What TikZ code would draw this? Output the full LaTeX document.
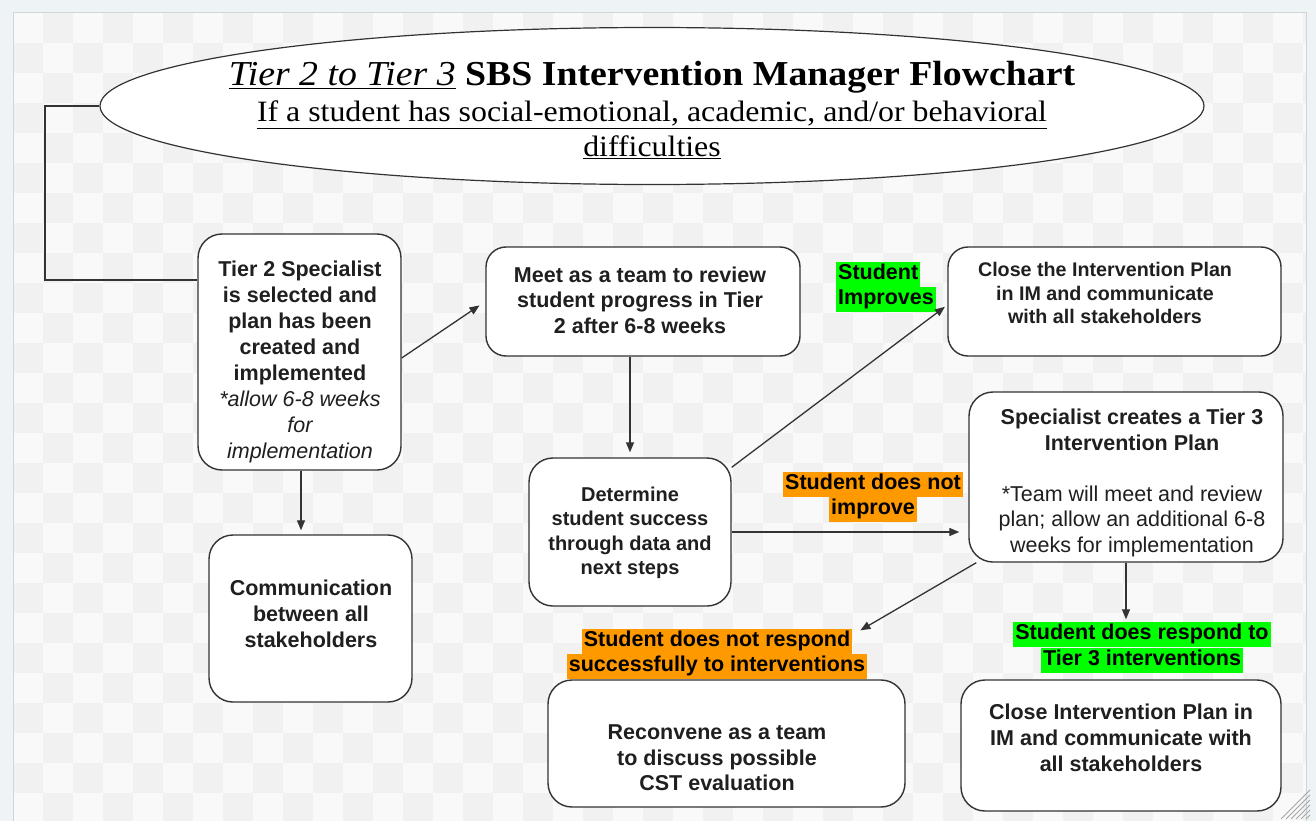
\documentclass[tikz,border=0pt]{standalone}
\usepackage{fontspec}
\setmainfont{Liberation Serif}[FakeStretch=1.08]
\setsansfont{Liberation Sans}
\usetikzlibrary{arrows.meta,shapes.geometric,calc}
\definecolor{hlgreen}{HTML}{00FF00}
\definecolor{hlorange}{HTML}{FF9900}
\definecolor{edge}{HTML}{333333}
\definecolor{bgA}{HTML}{F1F1F1}
\definecolor{bgB}{HTML}{F9F9F9}
\definecolor{outerbg}{HTML}{EEF4F6}
\definecolor{framec}{HTML}{D0D6D8}
\begin{document}
\begin{tikzpicture}[x=1pt,y=-1pt,
 box/.style={draw=edge, line width=1.4pt, fill=white, rounded corners=24pt, inner sep=0pt},
 txt/.style={font=\sffamily\bfseries\fontsize{21.5}{26}\selectfont, align=center, text=black!88, inner sep=0pt},
 arr/.style={draw=edge, line width=1.3pt, -{Triangle[length=10pt,width=8pt]}},
 hl/.style={inner sep=2pt, text height=16pt, text depth=5pt, font=\sffamily\bfseries\fontsize{21.5}{24}\selectfont},
]
\useasboundingbox (0,0) rectangle (1316,821);
\fill[outerbg] (0,0) rectangle (1316,821);
\begin{scope}
\clip (13,13) rectangle (1306,821);
\fill[bgA] (13,13) rectangle (1306,821);
\foreach \i in {0,...,43} { \foreach \j in {0,...,27} {
  \pgfmathtruncatemacro\k{mod(\i+\j,2)}
  \ifnum\k=0 \fill[bgB] (13+30*\i, 13+30*\j) rectangle ++(30,30); \fi } }
\end{scope}
\draw[framec, line width=1pt] (13,821) -- (13,13) -- (1306,13) -- (1306,821);
\foreach \d in {4,9,...,29} \draw[gray!70, line width=1pt] (1310-\d,819) -- (1310,819-\d);

% title ellipse
\node[draw=edge, line width=1.2pt, fill=white, ellipse, minimum width=1104pt, minimum height=157pt, inner sep=0pt] (ell) at (652,106) {};
\node[font=\fontsize{35}{40}\selectfont, inner sep=0pt, anchor=base] (title) at (652,86) {\underline{\textit{Tier 2 to Tier 3}} \textbf{SBS Intervention Manager Flowchart}};
\node[font=\fontsize{29.5}{32}\selectfont, inner sep=0pt, anchor=base] (sub1) at (652,122) {\underline{If a student has social-emotional, academic, and/or behavioral}};
\node[font=\fontsize{29.5}{32}\selectfont, inner sep=0pt, anchor=base] (sub2) at (652,157) {\underline{difficulties}};

% boxes
\node[box, minimum width=203pt, minimum height=236pt] (A) at (299.5,352) {};
\node[box, minimum width=203pt, minimum height=167pt] (B) at (310.5,618.5) {};
\node[box, minimum width=314pt, minimum height=109pt, rounded corners=20pt] (C) at (643,301.5) {};
\node[box, minimum width=202pt, minimum height=148pt] (D) at (630,532) {};
\node[box, minimum width=333pt, minimum height=109pt, rounded corners=20pt] (E) at (1114.5,301.5) {};
\node[box, minimum width=314pt, minimum height=170pt] (F) at (1126,477) {};
\node[box, minimum width=357pt, minimum height=127pt] (G) at (726.5,743.5) {};
\node[box, minimum width=320pt, minimum height=131pt] (H) at (1121,745.5) {};

% box texts
\node[txt] (At) at (300,362) {Tier 2 Specialist\\is selected and\\plan has been\\created and\\implemented\\{\mdseries\itshape *allow 6-8 weeks}\\{\mdseries\itshape for}\\{\mdseries\itshape implementation}};
\node[txt] (Bt) at (311,614) {Communication\\between all\\stakeholders};
\node[txt, font=\sffamily\bfseries\fontsize{21.5}{25.5}\selectfont] (Ct) at (640,300) {Meet as a team to review\\student progress in Tier\\2 after 6-8 weeks};
\node[txt, font=\sffamily\bfseries\fontsize{20}{24.5}\selectfont] (Dt) at (630,533) {Determine\\student success\\through data and\\next steps};
\node[txt, font=\sffamily\bfseries\fontsize{19.7}{23.5}\selectfont] (Et) at (1105,293) {Close the Intervention Plan\\in IM and communicate\\with all stakeholders};
\node[txt, font=\sffamily\bfseries\fontsize{21.5}{25.5}\selectfont] (Ft) at (1132,483) {Specialist creates a Tier 3\\Intervention Plan\\\strut\\{\mdseries *Team will meet and review}\\{\mdseries plan; allow an additional 6-8}\\{\mdseries weeks for implementation}};
\node[txt, font=\sffamily\bfseries\fontsize{21.5}{25.5}\selectfont] (Gt) at (717,758) {Reconvene as a team\\to discuss possible\\CST evaluation};
\node[txt, font=\sffamily\bfseries\fontsize{21.5}{26}\selectfont] (Ht) at (1121,738) {Close Intervention Plan in\\IM and communicate with\\all stakeholders};

% highlighted labels
\node[hl, fill=hlgreen, anchor=west] (L1a) at (836,274) {Student};
\node[hl, fill=hlgreen, anchor=west] (L1b) at (836,299) {Improves};
\node[hl, fill=hlorange] (L2a) at (873,484) {Student does not};
\node[hl, fill=hlorange] (L2b) at (873,509) {improve};
\node[hl, fill=hlorange] (L3a) at (717,641) {Student does not respond};
\node[hl, fill=hlorange] (L3b) at (717,666) {successfully to interventions};
\node[hl, fill=hlgreen] (L4a) at (1142,634) {Student does respond to};
\node[hl, fill=hlgreen] (L4b) at (1142,660) {Tier 3 interventions};

% connectors
\coordinate (j) at (45,280);
\draw[draw=edge, line width=1.3pt] (ell.west) -| (j) -- (A.west |- j);
\draw[arr, shorten >=7pt] ([yshift=-6pt]A.east) -- (C.west);
\draw[arr, shorten >=4pt] (A.south -| 301,0) -- (B.north -| 301,0);
\draw[arr, shorten >=5pt] (D.north |- C.south) -- (D.north);
\draw[arr, shorten >=3pt] ([yshift=-10pt]D.north east) -- ([yshift=-3.5pt]E.west);
\draw[arr, shorten >=9pt] (D.east) -- (D.east -| F.west);
\draw[arr] ([xshift=8pt]F.south west) -- ([xshift=8pt,yshift=-2pt]L3a.north east);
\draw[arr, shorten >=2pt] (F.south) -- (F.south |- L4a.north);
\end{tikzpicture}
\end{document}
